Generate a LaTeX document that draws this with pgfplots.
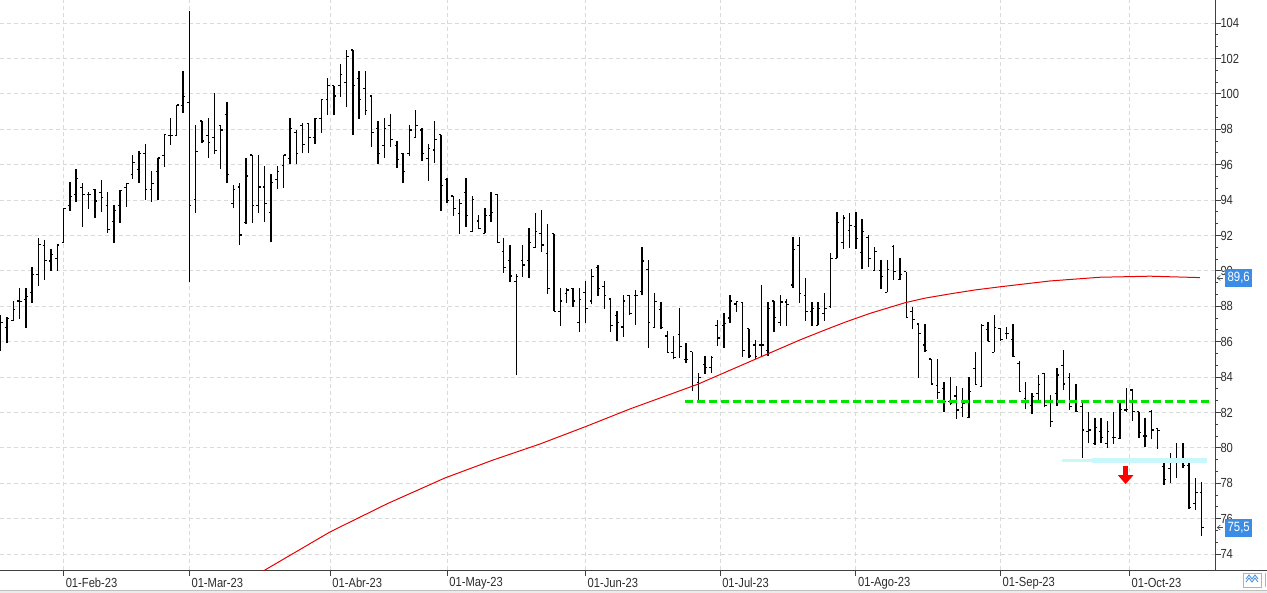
\documentclass[border=0pt]{standalone}
\usepackage{fontspec}
\setmainfont{Liberation Sans}
\newfontfamily\axisfont[FakeStretch=0.85]{Liberation Sans}
\usepackage{pgfplots}
\pgfplotsset{compat=1.18}
\usepackage{pgfplotstable}
\usetikzlibrary{arrows.meta}

\definecolor{gridc}{RGB}{218,218,218}
\definecolor{labc}{RGB}{45,45,45}
\definecolor{boxblue}{RGB}{58,140,228}
\definecolor{limec}{RGB}{0,228,0}
\definecolor{cyanband}{RGB}{200,248,252}
\definecolor{maRed}{RGB}{232,0,0}

\pgfplotstableread{
x o h l c
1 86.6 87.51 85.49 87.09
2 86.81 87.38 85.9 87.3
3 87.19 88.3 87.19 87.83
4 88.3 89.03 87.3 88.28
5 88.4 89.05 86.79 88.55
6 88.79 90.24 88.2 89.8
7 89.8 91.84 89.15 91.5
8 91.44 91.75 89.49 90.6
9 90.56 91.24 90.01 90.94
10 90.7 91.5 90.01 91.46
11 91.61 93.53 91.61 93.53
12 93.7 95.0 93.4 94.19
13 94.34 95.74 93.91 95.23
14 94.72 94.95 92.5 94.33
15 94.34 94.44 93.52 94.34
16 94.61 94.61 93.01 93.95
17 94.44 95.12 93.31 94.14
18 93.7 94.44 92.12 92.35
19 92.8 93.72 91.6 93.4
20 93.7 94.57 92.72 94.53
21 94.72 94.97 93.63 94.95
22 95.47 96.55 95.21 96.13
23 95.74 96.77 94.98 96.64
24 96.64 97.17 94.0 94.61
25 94.61 95.64 93.91 94.95
26 95.62 96.38 94.0 96.38
27 96.53 97.68 95.89 97.68
28 97.66 98.64 97.11 97.66
29 97.66 99.37 97.66 99.37
30 99.35 101.31 98.94 99.84
31 99.52 104.68 89.37 93.7
32 94.04 98.22 93.29 96.75
33 98.47 98.47 97.25 97.34
34 97.66 98.64 96.4 97.27
35 97.55 100.03 96.62 96.79
36 98.19 98.19 95.74 97.96
37 98.85 99.54 94.95 95.46
38 93.82 94.85 93.53 94.61
39 94.74 94.98 91.44 92.03
40 92.75 96.38 92.63 95.36
41 96.55 96.55 92.72 93.67
42 93.67 96.55 93.29 94.74
43 94.74 95.93 92.78 93.82
44 93.31 95.47 91.61 95.0
45 95.14 95.93 94.61 95.62
46 95.93 96.55 94.7 96.55
47 96.36 98.64 96.02 98.06
48 97.83 97.96 96.02 96.64
49 98.23 98.34 96.64 97.15
50 98.34 98.34 96.64 97.55
51 97.55 98.62 97.15 98.62
52 98.62 99.66 97.81 99.66
53 99.66 100.88 98.81 100.45
54 100.45 100.45 98.81 99.88
55 100.45 101.69 99.84 101.07
56 100.65 102.48 99.24 102.1
57 102.48 102.48 97.68 100.45
58 100.88 101.29 98.6 99.66
59 100.28 101.29 98.81 99.07
60 99.88 99.88 97.02 97.83
61 98.06 98.49 96.02 96.64
62 97.06 98.62 96.4 98.06
63 98.23 98.87 97.02 97.43
64 97.06 97.34 95.83 96.27
65 96.64 96.64 94.95 95.6
66 96.64 98.24 96.51 97.96
67 97.55 99.09 97.55 98.23
68 97.96 98.06 96.23 96.64
69 96.36 97.17 95.1 96.92
70 96.83 98.47 96.11 97.43
71 97.68 97.68 93.40 94.84
72 95.14 95.23 93.82 94.0
73 94.23 94.23 93.12 93.53
74 93.25 94.06 92.1 93.82
75 94.44 95.23 92.5 93.14
76 92.22 94.23 92.22 94.04
77 92.82 93.16 92.35 92.39
78 92.12 93.53 92.12 93.14
79 93.14 94.46 92.78 93.29
80 94.33 94.33 91.61 91.61
81 91.1 91.84 89.9 90.2
82 90.6 91.44 89.39 89.71
83 89.41 89.8 84.1 89.66
84 90.6 91.44 89.67 90.33
85 90.6 92.42 89.62 91.61
86 91.31 93.25 91.31 92.24
87 92.12 93.42 91.09 91.46
88 90.99 92.65 88.71 89.02
89 92.1 92.1 87.72 87.72
90 87.72 89.02 86.91 88.3
91 88.71 89.02 88.2 88.92
92 89.02 89.02 87.98 88.3
93 87.1 89.02 86.57 88.39
94 88.79 89.43 87.08 87.88
95 88.3 90.11 88.11 89.66
96 90.2 90.32 88.6 89.02
97 89.13 89.43 87.87 88.62
98 88.41 88.41 86.57 86.93
99 87.49 87.73 86.06 87.1
100 86.83 88.62 86.28 88.3
101 88.62 88.62 87.49 87.6
102 88.62 88.92 86.96 88.62
103 88.81 91.33 88.62 90.56
104 90.09 90.62 85.66 87.09
105 86.79 88.75 86.79 88.28
106 87.83 88.24 86.7 86.79
107 86.32 86.6 85.38 85.38
108 85.38 86.32 85.0 85.1
109 86.42 87.9 85.1 85.72
110 85.0 85.91 84.78 85.0
111 85.42 85.42 83.2 83.5
112 83.7 84.21 82.6 84.0
113 84.72 85.17 84.19 84.53
114 84.53 85.17 84.25 85.12
115 86.93 87.22 85.78 86.21
116 86.93 87.62 85.66 87.04
117 87.34 88.64 87.08 88.3
118 88.13 88.3 87.7 88.26
119 88.22 88.22 85.15 85.51
120 86.72 86.72 85.1 85.19
121 85.81 86.1 85.02 85.15
122 85.81 89.2 85.15 85.81
123 85.51 88.24 85.19 87.89
124 88.3 88.3 86.57 87.36
125 87.1 88.62 86.91 88.24
126 88.24 88.41 86.91 88.11
127 89.2 91.93 89.02 91.22
128 91.43 91.93 88.2 88.73
129 88.62 89.62 87.19 87.7
130 87.7 88.22 86.91 87.89
131 86.93 88.22 86.93 87.89
132 87.6 88.73 87.19 87.89
133 87.98 91.01 87.89 90.71
134 90.71 93.31 90.71 92.74
135 91.61 93.14 91.22 92.99
136 92.3 93.25 91.31 92.56
137 92.52 93.33 91.22 91.84
138 91.03 92.91 90.09 92.23
139 91.88 92.01 90.2 90.71
140 90.01 91.33 90.01 91.09
141 90.03 90.6 88.99 89.66
142 88.79 90.6 88.79 90.09
143 91.37 91.44 89.49 89.94
144 89.49 90.73 89.49 89.82
145 89.94 89.94 87.32 87.38
146 87.73 87.98 86.7 87.23
147 87.0 87.0 83.97 86.44
148 85.81 87.0 85.42 85.49
149 85.02 85.02 83.61 83.61
150 83.5 85.02 82.76 83.12
151 83.36 83.72 82.0 82.63
152 82.63 83.99 82.42 82.52
153 82.93 83.48 81.65 82.14
154 82.29 83.4 81.77 82.5
155 81.71 84.01 81.67 83.2
156 84.5 85.42 83.59 83.59
157 83.48 87.0 83.48 86.92
158 86.7 87.09 86.02 86.02
159 85.4 87.51 85.4 86.81
160 86.74 86.79 86.04 86.12
161 86.47 86.81 86.15 86.47
162 86.12 87.0 85.14 85.14
163 84.78 84.91 83.2 83.2
164 82.78 83.74 82.18 82.56
165 82.4 83.08 81.9 82.9
166 83.08 84.1 82.59 83.59
167 84.21 84.21 82.29 82.37
168 82.67 83.0 81.2 81.48
169 83.08 84.5 82.39 84.12
170 84.63 85.53 83.27 83.61
171 83.99 84.23 82.14 82.33
172 82.61 83.61 82.05 82.08
173 82.33 82.71 79.45 81.01
174 80.92 82.05 80.26 81.01
175 80.26 81.67 80.18 81.16
176 80.92 81.67 80.26 80.6
177 80.26 81.52 79.98 80.92
178 80.6 82.05 80.22 80.6
179 80.54 82.67 80.48 82.18
180 82.14 83.37 82.01 82.16
181 83.27 83.27 81.54 82.05
182 82.05 82.05 80.58 80.88
183 80.67 81.67 80.07 80.67
184 82.05 82.14 80.48 81.01
185 81.11 81.11 79.96 80.96
186 78.96 79.37 77.89 78.19
187 78.81 79.71 78.0 79.2
188 79.2 80.3 78.32 79.2
189 79.37 80.3 78.85 78.98
190 78.98 79.37 76.57 76.62
191 76.87 78.28 76.5 77.49
192 77.49 78.09 75.04 75.5
}\ohlc

\begin{document}
\begin{tikzpicture}
\useasboundingbox (0,-23bp) rectangle (1267bp,570bp);
\begin{axis}[
  at={(0,0)}, anchor=south west,
  width=1215.3bp, height=570bp, scale only axis,
  xmin=0.889, xmax=194.16, ymin=73.10, ymax=105.305,
  axis x line*=bottom, axis y line*=right,
  axis line style={draw=black!75, line width=0.9bp},
  xtick={11,31,53.4,72,94,115.4,137,160,180.5},
  xticklabels={01-Feb-23,01-Mar-23,01-Abr-23,01-May-23,01-Jun-23,01-Jul-23,01-Ago-23,01-Sep-23,01-Oct-23},
  ytick={74,76,...,104},
  minor y tick num=2,
  /pgf/number format/assume math mode=true,
  ticklabel style={font=\axisfont\fontsize{13.2}{15}\selectfont, text=labc},
  xticklabel style={anchor=west, inner sep=0pt, xshift=2bp, yshift=-7bp},
  yticklabel style={anchor=west, inner sep=0pt, xshift=-1bp},
  grid=major,
  major grid style={gridc, dash pattern=on 4bp off 3bp, line width=0.8bp},
  tick style={black!75, line width=0.8bp},
  major tick length=6bp, minor tick length=3bp,
  tick align=outside,
  clip mode=individual,
]
% high-low
\addplot[draw=none, mark=none, forget plot,
  error bars/.cd, y dir=plus, y explicit, error mark=none,
  error bar style={draw=black, line width=1.35bp}]
  table[x=x, y=l, y error plus expr=\thisrow{h}-\thisrow{l}] {\ohlc};
% open ticks
\addplot[draw=none, mark=none, forget plot,
  error bars/.cd, x dir=minus, x fixed=0.33, error mark=none,
  error bar style={draw=black, line width=1.1bp}]
  table[x=x, y=o] {\ohlc};
% close ticks
\addplot[draw=none, mark=none, forget plot,
  error bars/.cd, x dir=plus, x fixed=0.33, error mark=none,
  error bar style={draw=black, line width=1.1bp}]
  table[x=x, y=c] {\ohlc};
% moving average
\addplot[maRed, line width=1bp] coordinates {
(42.3,72.95) (53.37,75.25) (62.5,76.85) (71.65,78.3) (79.2,79.3) (86.77,80.22)
(94,81.2) (101.08,82.2) (106.5,82.9)
(111.89,83.6) (120.96,85.0) (128.12,86.1) (132,86.65) (135.27,87.1)
(139.25,87.6) (144.81,88.2) (148,88.46) (151.97,88.7) (155.9,88.92) (159.92,89.1)
(167.87,89.43) (175.82,89.64) (183.77,89.7) (191.72,89.62)};
% support line
\addplot[limec, line width=3bp, dash pattern=on 8bp off 4bp] coordinates {(109.8,82.64) (193.3,82.64)};
% cyan band
\addplot[cyanband, line width=3bp] coordinates {(169.8,79.3) (174.6,79.3)};
\addplot[cyanband, line width=5bp] coordinates {(174.6,79.3) (192.85,79.3)};
% red arrow
\draw[red, line width=5bp, -{Triangle[width=15bp, length=9bp]}] (axis cs:179.9,78.95) -- (axis cs:179.9,77.95);
% value boxes
\node[fill=boxblue, text=white, font=\axisfont\fontsize{13.5}{15}\selectfont, inner sep=0pt, minimum height=18bp, minimum width=27bp, anchor=west, xshift=9.7bp] at (axis cs:194.16,89.6) {89,6};
\node[fill=boxblue, text=white, font=\axisfont\fontsize{13.5}{15}\selectfont, inner sep=0pt, minimum height=18bp, minimum width=27bp, anchor=west, xshift=9.7bp] at (axis cs:194.16,75.5) {75,5};
\draw[black!70, line width=0.6bp] ([xshift=5bp,yshift=2.5bp]axis cs:194.16,89.6) -- ([xshift=2bp]axis cs:194.16,89.6) -- ([xshift=5bp,yshift=-2.5bp]axis cs:194.16,89.6);
\draw[black!70, line width=0.6bp] ([xshift=2bp]axis cs:194.16,89.6) -- ([xshift=8bp]axis cs:194.16,89.6);
\draw[black!70, line width=0.6bp] ([xshift=5bp,yshift=2.5bp]axis cs:194.16,75.5) -- ([xshift=2bp]axis cs:194.16,75.5) -- ([xshift=5bp,yshift=-2.5bp]axis cs:194.16,75.5);
\draw[black!70, line width=0.6bp] ([xshift=2bp]axis cs:194.16,75.5) -- ([xshift=8bp]axis cs:194.16,75.5);
\end{axis}
% bottom strip decoration
\draw[black!75, line width=0.9bp] (1215.3bp,0) -- (1267bp,0);
\fill[black!8] (0,-23bp) rectangle (1267bp,-20bp);
\draw[black!25, line width=0.6bp] (0,-20bp) -- (1267bp,-20bp);
\draw[black!30, line width=0.6bp, fill=white] (1243.5bp,-3bp) rectangle (1261.5bp,-17bp);
\draw[boxblue, line width=0.8bp] (1246bp,-12bp) -- (1249bp,-8bp) -- (1252bp,-12bp) -- (1255bp,-8bp) -- (1258bp,-12bp);
\draw[boxblue, line width=0.8bp] (1246bp,-9bp) -- (1249bp,-5bp) -- (1252bp,-9bp) -- (1255bp,-5bp) -- (1258bp,-9bp);
\draw[black!30, line width=0.6bp] (1265bp,-3bp) -- (1265bp,-17bp);
\end{tikzpicture}
\end{document}
